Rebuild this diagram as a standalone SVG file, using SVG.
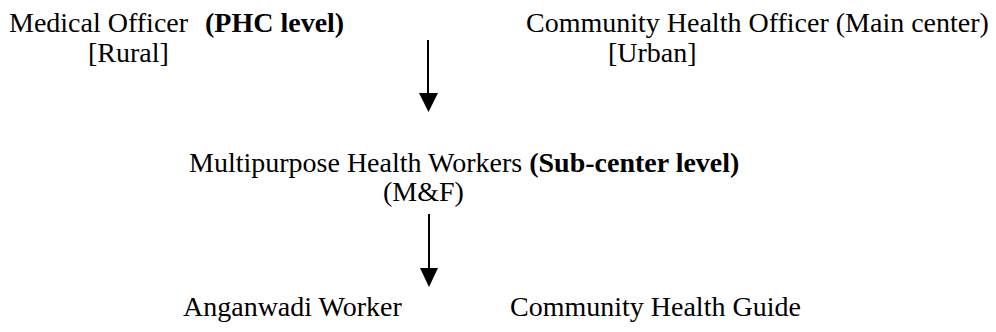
<svg xmlns="http://www.w3.org/2000/svg" width="996" height="332" viewBox="0 0 996 332">
  <style>
    text { font-family: 'Liberation Serif', 'Times New Roman', serif; font-size: 28px; fill: #000; }
    .b { font-weight: bold; }
    .link { stroke: #000; stroke-width: 2; fill: none; }
    .head { fill: #000; }
  </style>
  <rect width="996" height="332" fill="#fff"/>

  <!-- top level: rural and urban officers -->
  <g id="medical-officer">
    <text x="9" y="32">Medical Officer</text>
    <text x="205" y="32" class="b">(PHC level)</text>
    <text x="88" y="62">[Rural]</text>
  </g>

  <g id="community-health-officer">
    <text x="526" y="32">Community Health Officer (Main center)</text>
    <text x="608" y="62">[Urban]</text>
  </g>

  <!-- middle level -->
  <g id="multipurpose-workers">
    <text x="189" y="172">Multipurpose Health Workers <tspan class="b">(Sub-center level)</tspan></text>
    <text x="383" y="201">(M&amp;F)</text>
  </g>

  <!-- village level -->
  <g id="anganwadi-worker">
    <text x="183" y="316">Anganwadi Worker</text>
  </g>

  <g id="community-health-guide">
    <text x="510" y="316">Community Health Guide</text>
  </g>

  <g id="connectors">
    <path class="link" d="M428 40 V95"/>
    <path class="head" d="M419 93 L438 93 L428.5 112 Z"/>
    <path class="link" d="M429 214 V270"/>
    <path class="head" d="M420 268 L438 268 L429 287 Z"/>
  </g>
</svg>
